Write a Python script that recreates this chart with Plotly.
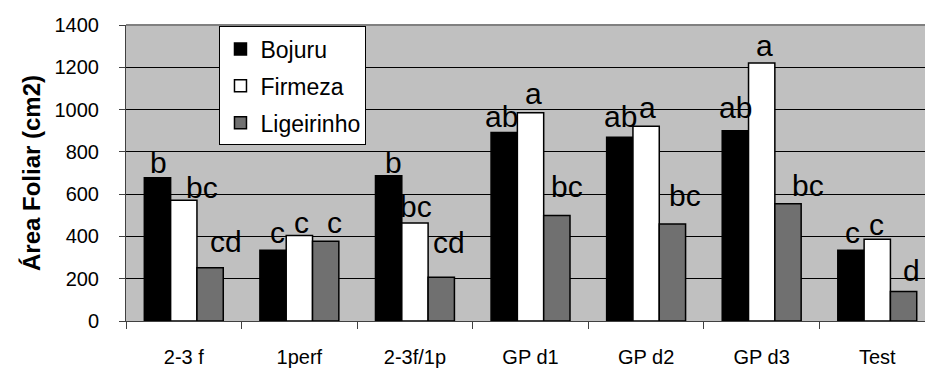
import plotly.graph_objects as go

categories = ["2-3 f", "1perf", "2-3f/1p", "GP d1", "GP d2", "GP d3", "Test"]
series_names = ["Bojuru", "Firmeza", "Ligeirinho"]
bojuru = [678, 335, 687, 891, 869, 900, 335]
firmeza = [571, 404, 463, 985, 921, 1220, 387]
ligeirinho = [252, 377, 207, 499, 459, 554, 140]
letters_bojuru = ["b", "c", "b", "ab", "ab", "ab", "c"]
letters_firmeza = ["bc", "c", "bc", "a", "a", "a", "c"]
letters_ligeirinho = ["cd", "c", "cd", "bc", "bc", "bc", "d"]
y_ticks = [0, 200, 400, 600, 800, 1000, 1200, 1400]

# label placement tweaks (pixels): horizontal shift, gap between baseline and bar top
label_dx = [[1, 18, 16], [4, 2, 9], [5, 1.5, 8], [-3, 2.5, 10],
            [0.7, 1.7, 12.7], [0, 2.5, 20], [1.3, -0.6, 7.7]]
label_gap = [[3.7, 2, 15], [6.7, 2, 7.7], [1.7, 6, 24], [5, 8, 18],
             [10, 7.7, 17], [12, 6, 7], [6.7, 3.4, 10]]

FONT = "Liberation Sans, Arial, sans-serif"
W, H = 925, 368
ML, MR, MT, MB = 126, 0, 25, 45
x_range = [-0.5, 6.413]
bargap = 0.317

colors = ["#000000", "#ffffff", "#707070"]
values = [bojuru, firmeza, ligeirinho]
letters = [letters_bojuru, letters_firmeza, letters_ligeirinho]

fig = go.Figure()
for i, (name, vals) in enumerate(zip(series_names, values)):
    fig.add_trace(go.Bar(
        name=name, x=categories, y=vals,
        marker=dict(color=colors[i], line=dict(color="#000000", width=1.5)),
        legendgroup=name,
    ))

plot_w = W - ML - MR
px_per_cat = plot_w / (x_range[1] - x_range[0])
bar_w = px_per_cat * (1 - bargap) / 3

annotations = []
for c, cat in enumerate(categories):
    for i in range(3):
        annotations.append(dict(
            x=cat, y=values[i][c], xref="x", yref="y",
            text=letters[i][c], showarrow=False,
            xanchor="center", yanchor="bottom",
            xshift=(i - 1) * bar_w + label_dx[c][i],
            yshift=label_gap[c][i] - 7.4,
            font=dict(family=FONT, size=30, color="#000000"),
        ))

fig.update_layout(
    width=W, height=H,
    margin=dict(l=ML, r=MR, t=MT, b=MB, pad=0),
    paper_bgcolor="#ffffff", plot_bgcolor="#c0c0c0",
    barmode="group", bargap=bargap, bargroupgap=0,
    font=dict(family=FONT, size=20, color="#000000"),
    showlegend=True,
    legend=dict(
        x=0.117, y=0.995, xanchor="left", yanchor="top",
        bgcolor="#ffffff", bordercolor="#000000", borderwidth=1,
        font=dict(family=FONT, size=23, color="#000000"),
        tracegroupgap=4, itemwidth=30,
    ),
    annotations=annotations,
    xaxis=dict(
        range=x_range, type="category",
        showline=True, linecolor="#404040", linewidth=1,
        ticks="outside", ticklen=7, tickcolor="#404040", tickson="boundaries",
        tickfont=dict(family=FONT, size=20), ticklabelstandoff=18,
        showgrid=False, zeroline=False,
    ),
    yaxis=dict(
        range=[0, 1400], tickvals=y_ticks,
        showline=True, linecolor="#404040", linewidth=1,
        ticks="outside", ticklen=6, tickcolor="#404040",
        tickfont=dict(family=FONT, size=20), ticklabelstandoff=16,
        showgrid=True, gridcolor="#000000", gridwidth=1,
        zeroline=False,
        title=dict(text="<b>Área Foliar (cm2)</b>", font=dict(family=FONT, size=24), standoff=7),
    ),
    shapes=[dict(type="line", xref="paper", yref="paper", x0=0, x1=1, y0=1, y1=1,
                 line=dict(color="#808080", width=2))],
)

fig.write_html("out.html")
